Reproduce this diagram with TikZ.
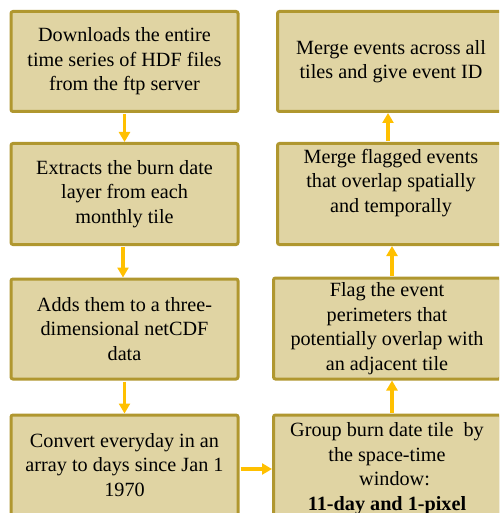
\documentclass[tikz,border=0pt]{standalone}
\usepackage{fontspec}
\setmainfont{Liberation Serif}
\usetikzlibrary{arrows.meta}
\definecolor{boxfill}{HTML}{E0D4A3}
\definecolor{boxline}{HTML}{B0972F}
\definecolor{arrcol}{HTML}{FFC000}
\begin{document}
\begin{tikzpicture}[x=1pt,y=-1pt,
  box/.style={draw=boxline, fill=boxfill, line width=3pt, rounded corners=2pt, inner sep=0pt},
  lbox/.style={box, minimum width=227pt},
  txt/.style={align=center, inner sep=0pt, font=\fontsize{20.2}{24.6}\selectfont, text=black},
  arr/.style={draw=arrcol, line width=3.5pt, -{Triangle[width=11pt,length=10pt]}, shorten <=1pt}
]
\path[use as bounding box, clip] (0,0) rectangle (499,513);
% left column
\node[lbox, minimum height=100pt] (l1) at (124.5,61.5) {};
\node[lbox, minimum height=101pt] (l2) at (124.5,194) {};
\node[lbox, minimum height=100pt] (l3) at (124.5,329) {};
\node[lbox, minimum height=105pt] (l4) at (124.5,467.5) {};
% right column
\node[lbox, minimum height=100pt] (r1) at (391,61.5) {};
\node[lbox, minimum height=101pt] (r2) at (391,194) {};
\node[lbox, minimum height=101pt] (r3) at (387,328.5) {};
\node[lbox, minimum height=105pt] (r4) at (387,467.5) {};
% texts
\node[txt] (t1) at (l1.center) {Downloads the entire\\time series of HDF files\\from the ftp server};
\node[txt] (t2) at (l2.center) {Extracts the burn date\\layer from each\\monthly tile};
\node[txt] (t3) at (l3.center) {Adds them to a three-\\dimensional netCDF\\data};
\node[txt] (t4) at (124.5,465) {Convert everyday in an\\array to days since Jan 1\\1970};
\node[txt] (t5) at (r1.center) {Merge events across all\\tiles and give event ID};
\node[txt] (t6) at (391,183) {Merge flagged events\\that overlap spatially\\and temporally};
\node[txt] (t7) at (r3.center) {Flag the event\\perimeters that\\potentially overlap with\\an adjacent tile};
\node[txt] (t8) at (387,468.5) {Group burn date tile\ \ by\\the space-time\\\ \ \ window:\\\textbf{11-day and 1-pixel}};
% arrows
\draw[arr] (l1.south) -- (l2.north);
\draw[arr] ([xshift=-1.5pt]l2.south) -- ([xshift=-1.5pt]l3.north);
\draw[arr] (l3.south) -- (l4.north);
\draw[arr] ([yshift=-1.5pt]l4.east) -- ([yshift=-1.5pt]r4.west);
\draw[arr] ([xshift=5pt]r4.north) -- ([xshift=5pt]r3.north |- r3.south);
\draw[arr] ([xshift=5pt]r3.north) -- ([xshift=1pt]r2.south);
\draw[arr] ([xshift=-3pt]r2.north) -- ([xshift=-3pt]r1.south);
\end{tikzpicture}
\end{document}
